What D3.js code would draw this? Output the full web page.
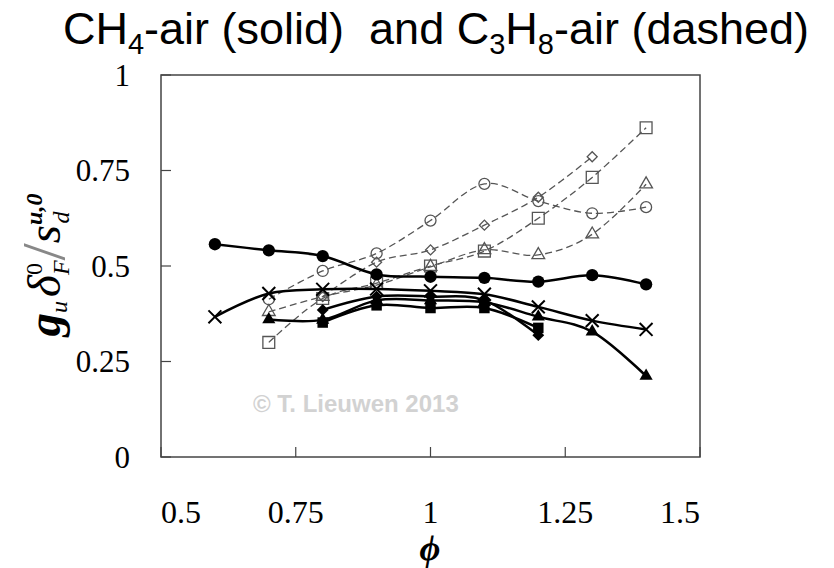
<!DOCTYPE html>
<meta charset="utf-8">
<style>
body { margin: 0; background: #fff; }
.frame { fill: none; stroke: #444; stroke-width: 1.5px; }
.tick-label { font-family: "Liberation Serif", "Times New Roman", serif; fill: #000; }
.solid { fill: none; stroke: #000; stroke-width: 2.5px; }
.dashed { fill: none; stroke: #555; stroke-width: 1.3px; stroke-dasharray: 7, 4; }
</style>
<body>
<script src="https://cdn.jsdelivr.net/npm/d3@7"></script>
<script>

// CH4-air (solid lines, filled markers)
var phiCircle = [0.6, 0.7, 0.8, 0.9, 1.0, 1.1, 1.2, 1.3, 1.4];
var ch4Circle = [0.557, 0.541, 0.526, 0.478, 0.472, 0.469, 0.459, 0.476, 0.452];
var phiCross = [0.6, 0.7, 0.8, 0.9, 1.0, 1.1, 1.2, 1.3, 1.4];
var ch4Cross = [0.367, 0.428, 0.439, 0.44, 0.435, 0.426, 0.393, 0.357, 0.334];
var phiTri = [0.7, 0.8, 0.9, 1.0, 1.1, 1.2, 1.3, 1.4];
var ch4Tri = [0.36, 0.359, 0.41, 0.41, 0.405, 0.367, 0.328, 0.212];
var phiSq = [0.8, 0.9, 1.0, 1.1, 1.2];
var ch4Sq = [0.352, 0.397, 0.39, 0.39, 0.338];
var phiDia = [0.8, 0.9, 1.0, 1.1, 1.2];
var ch4Dia = [0.385, 0.42, 0.42, 0.41, 0.319];

// C3H8-air (dashed lines, hollow markers)
var phiC3Circle = [0.7, 0.8, 0.9, 1.0, 1.1, 1.2, 1.3, 1.4];
var c3Circle = [0.413, 0.487, 0.533, 0.619, 0.715, 0.670, 0.638, 0.654];
var phiC3Dia = [0.8, 0.9, 1.0, 1.1, 1.2, 1.3];
var c3Dia = [0.42, 0.51, 0.542, 0.607, 0.68, 0.786];
var phiC3Sq = [0.7, 0.8, 0.9, 1.0, 1.1, 1.2, 1.3, 1.4];
var c3Sq = [0.30, 0.415, 0.455, 0.50, 0.539, 0.625, 0.732, 0.862];
var phiC3Tri = [0.7, 0.8, 0.9, 1.0, 1.1, 1.2, 1.3, 1.4];
var c3Tri = [0.38, 0.42, 0.45, 0.498, 0.542, 0.529, 0.583, 0.714];

var xTicks = [0.5, 0.75, 1, 1.25, 1.5];
var xTickLabels = ["0.5", "0.75", "1", "1.25", "1.5"];
var yTicks = [0, 0.25, 0.5, 0.75, 1];
var yTickLabels = ["0", "0.25", "0.5", "0.75", "1"];

var margin = {top: 75, left: 161},
    width = 539,
    height = 382;

var x = d3.scaleLinear().domain([0.5, 1.5]).range([0, width]);
var y = d3.scaleLinear().domain([0, 1]).range([height, 0]);

var svg = d3.select("body").append("svg")
    .attr("width", 834)
    .attr("height", 568);

// title
var title = svg.append("text")
    .attr("x", 436)
    .attr("y", 44)
    .attr("text-anchor", "middle")
    .style("white-space", "pre")
    .style("font-family", "Arial, 'Liberation Sans', sans-serif")
    .style("font-size", "45px");
title.append("tspan").text("CH");
title.append("tspan").attr("dy", 10).style("font-size", "29px").text("4");
title.append("tspan").attr("dy", -10).text("-air (solid)  and C");
title.append("tspan").attr("dy", 10).style("font-size", "29px").text("3");
title.append("tspan").attr("dy", -10).text("H");
title.append("tspan").attr("dy", 10).style("font-size", "29px").text("8");
title.append("tspan").attr("dy", -10).text("-air (dashed)");

var g = svg.append("g")
    .attr("transform", "translate(" + margin.left + "," + margin.top + ")");

// watermark
g.append("text")
    .attr("x", 92)
    .attr("y", 337)
    .style("font-family", "Arial, 'Liberation Sans', sans-serif")
    .style("font-weight", "bold")
    .style("font-size", "24px")
    .style("fill", "#d2d2d2")
    .text("\u00a9 T. Lieuwen 2013");

// inward ticks
g.selectAll(".ytick").data(yTicks).enter().append("line")
    .attr("x1", 0).attr("x2", 10)
    .attr("y1", function(d) { return y(d); })
    .attr("y2", function(d) { return y(d); })
    .style("stroke", "#444").style("stroke-width", 1.2);
g.selectAll(".xtick").data(xTicks).enter().append("line")
    .attr("y1", height).attr("y2", height - 10)
    .attr("x1", function(d) { return x(d); })
    .attr("x2", function(d) { return x(d); })
    .style("stroke", "#444").style("stroke-width", 1.2);

g.append("rect").attr("class", "frame")
    .attr("width", width).attr("height", height);

// tick labels
g.selectAll(".ylab").data(yTicks).enter().append("text")
    .attr("class", "tick-label")
    .attr("x", -31)
    .attr("y", function(d) { return y(d); })
    .attr("dy", "0.35em")
    .attr("text-anchor", "end")
    .style("font-size", "31px")
    .text(function(d, i) { return yTickLabels[i]; });

g.selectAll(".xlab").data(xTicks).enter().append("text")
    .attr("class", "tick-label")
    .attr("x", function(d) { return x(d); })
    .attr("y", height + 66)
    .attr("text-anchor", function(d, i) { return i === 0 ? "start" : (i === xTicks.length - 1 ? "end" : "middle"); })
    .style("font-size", "32px")
    .text(function(d, i) { return xTickLabels[i]; });

// axis titles
svg.append("text")
    .attr("x", 430)
    .attr("y", 560)
    .attr("text-anchor", "middle")
    .style("font-family", "'Liberation Serif', serif")
    .style("font-style", "italic")
    .style("font-weight", "bold")
    .style("font-size", "36px")
    .text("\u03d5");

var yl = svg.append("text")
    .attr("transform", "translate(60,265) rotate(-90)")
    .attr("text-anchor", "middle")
    .style("font-family", "'Liberation Serif', serif")
    .style("font-style", "italic")
    .style("font-size", "47px");
yl.append("tspan").style("font-weight", "bold").text("g");
yl.append("tspan").attr("dy", 7).style("font-size", "24px").text("u");
yl.append("tspan").attr("dx", 4).attr("dy", -7).text("\u03b4");
yl.append("tspan").attr("dy", -18).style("font-size", "24px").style("font-style", "normal").text("0");
yl.append("tspan").attr("dx", -12).attr("dy", 27).style("font-size", "24px").text("F");
yl.append("tspan").attr("dy", -5).style("font-size", "62px").style("font-style", "normal").style("fill", "#888").text("/");
yl.append("tspan").attr("dy", -4).text("s");
yl.append("tspan").attr("dy", -18).style("font-size", "24px").style("font-weight", "bold").text("u,0");
yl.append("tspan").attr("dx", -30).attr("dy", 27).style("font-size", "24px").text("d");

var line = d3.line()
    .curve(d3.curveCatmullRom.alpha(0))
    .x(function(d) { return x(d[0]); })
    .y(function(d) { return y(d[1]); });

function pairs(px, py) { return px.map(function(p, i) { return [p, py[i]]; }); }

var dashedSeries = [
  {phi: phiC3Circle, v: c3Circle, shape: d3.symbolCircle, size: 95, rot: 0},
  {phi: phiC3Dia, v: c3Dia, shape: d3.symbolSquare, size: 50, rot: 45},
  {phi: phiC3Sq, v: c3Sq, shape: d3.symbolSquare, size: 140, rot: 0},
  {phi: phiC3Tri, v: c3Tri, shape: d3.symbolTriangle, size: 70, rot: 0}
];

var solidSeries = [
  {phi: phiCircle, v: ch4Circle, shape: d3.symbolCircle, size: 120, rot: 0},
  {phi: phiCross, v: ch4Cross, cross: true},
  {phi: phiTri, v: ch4Tri, shape: d3.symbolTriangle, size: 75, rot: 0},
  {phi: phiSq, v: ch4Sq, shape: d3.symbolSquare, size: 110, rot: 0},
  {phi: phiDia, v: ch4Dia, shape: d3.symbolSquare, size: 70, rot: 45}
];

dashedSeries.forEach(function(s) {
  g.append("path").attr("class", "dashed").attr("d", line(pairs(s.phi, s.v)));
});
dashedSeries.forEach(function(s) {
  g.selectAll(null).data(pairs(s.phi, s.v)).enter().append("path")
    .attr("d", d3.symbol().type(s.shape).size(s.size))
    .attr("transform", function(d) { return "translate(" + x(d[0]) + "," + y(d[1]) + ") rotate(" + s.rot + ")"; })
    .style("fill", "none")
    .style("stroke", "#555").style("stroke-width", 1.3);
});

solidSeries.forEach(function(s) {
  g.append("path").attr("class", "solid").attr("d", line(pairs(s.phi, s.v)));
});
solidSeries.forEach(function(s) {
  var pts = pairs(s.phi, s.v);
  if (s.cross) {
    g.selectAll(null).data(pts).enter().append("path")
      .attr("d", d3.symbol().type(d3.symbolTimes || d3.symbolCross).size(110))
      .attr("transform", function(d) { return "translate(" + x(d[0]) + "," + y(d[1]) + ")"; })
      .style("fill", "none").style("stroke", "#000").style("stroke-width", 2);
  } else {
    g.selectAll(null).data(pts).enter().append("path")
      .attr("d", d3.symbol().type(s.shape).size(s.size))
      .attr("transform", function(d) { return "translate(" + x(d[0]) + "," + y(d[1]) + ") rotate(" + s.rot + ")"; })
      .style("fill", "#000");
  }
});

</script>
</body>
